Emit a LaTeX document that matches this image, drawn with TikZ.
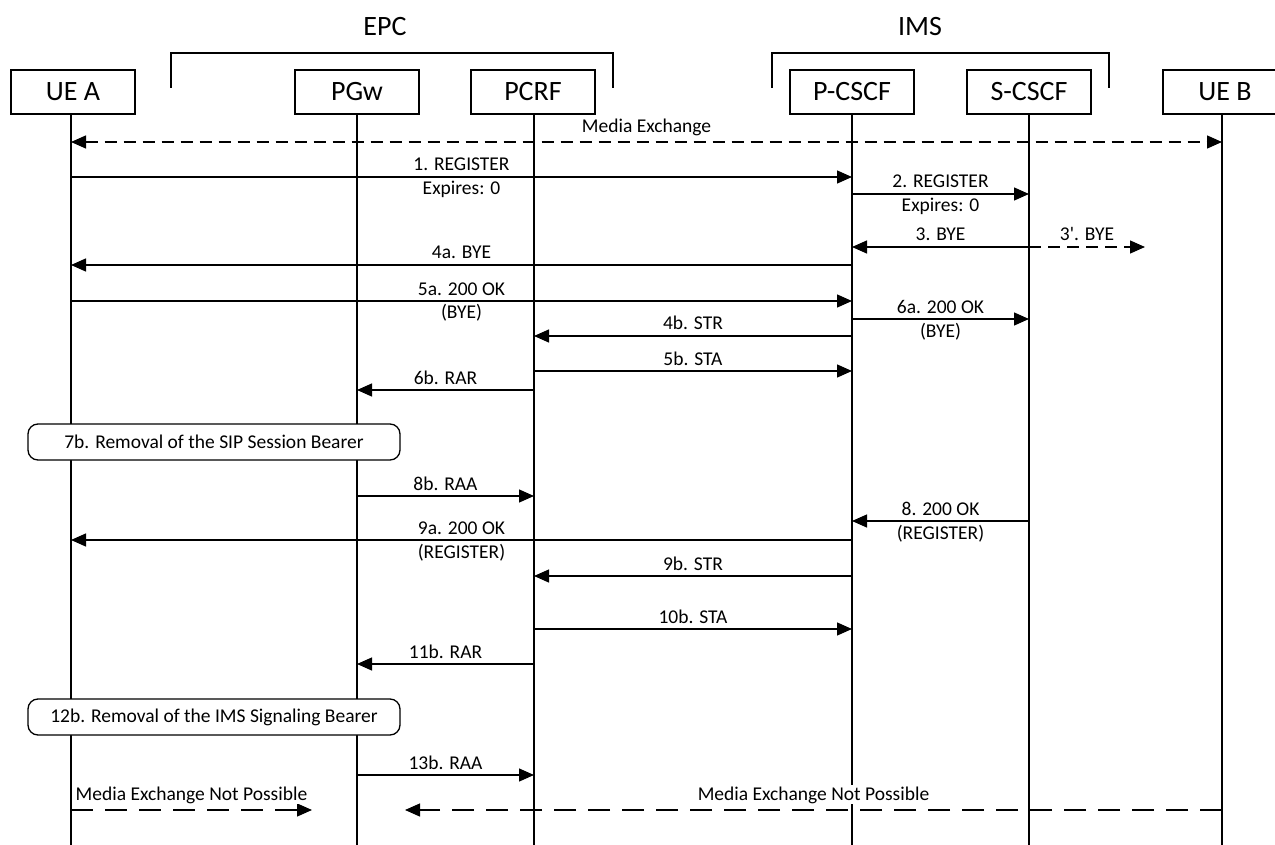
\documentclass[tikz,border=0pt]{standalone}
\usepackage{fontspec}
\newfontfamily\cf{Carlito}
\usetikzlibrary{arrows.meta}
\begin{document}
\begin{tikzpicture}[x=1pt,y=-1pt,
  >={Triangle[length=15pt,width=13pt]},
  every node/.style={font=\cf\fontsize{19.5}{23}\selectfont},
  hdr/.style={draw, line width=1.3pt, minimum width=124pt, minimum height=44pt, inner sep=0pt, fill=white, font=\cf\fontsize{28}{32}\selectfont},
  ttl/.style={font=\cf\fontsize{28}{32}\selectfont},
  life/.style={line width=1.3pt},
  msg/.style={line width=1.3pt, ->},
  dmsg/.style={line width=1.3pt, dash pattern=on 12pt off 7pt},
  ldmsg/.style={line width=1.3pt, dash pattern=on 22pt off 12pt, ->},
  ab/.style={midway, anchor=base, yshift=6pt, fill=white, inner sep=1pt},
  bl/.style={midway, anchor=base, yshift=-18pt, fill=white, inner sep=1pt},
  note/.style={draw, line width=1.3pt, rounded corners=10pt, fill=white, minimum width=372pt, minimum height=36pt, inner sep=0pt}
]
\clip (0,0) rectangle (1275,845);
% titles and brackets
\node[ttl] (epc) at (385,27) {EPC};
\node[ttl] (ims) at (920,27) {IMS};
\draw[life] (171,88) -- (171,53) -- (613,53) -- (613,88);
\draw[life] (772,88) -- (772,53) -- (1109,53) -- (1109,88);
% lifelines
\coordinate (uea) at (71,114);
\coordinate (pgw) at (357,114);
\coordinate (pcrf) at (534,114);
\coordinate (pcscf) at (852,114);
\coordinate (scscf) at (1029,114);
\coordinate (ueb) at (1222,114);
\foreach \n in {uea,pgw,pcrf,pcscf,scscf,ueb}{
  \draw[life] (\n) -- (\n |- 0,845);
}
% header boxes
\node[hdr] (bA) at (73,92) {UE A};
\node[hdr] (bPGw) at (357,92) {PGw};
\node[hdr] (bPCRF) at (533,92) {PCRF};
\node[hdr] (bP) at (852,92) {P-CSCF};
\node[hdr] (bS) at (1029,92) {S-CSCF};
\node[hdr] (bB) at (1225,92) {UE B};
% messages
\draw[dmsg, <->] (uea |- 0,142) -- (ueb |- 0,142) node[ab, yshift=3pt] {Media Exchange};
\draw[msg] (uea |- 0,177) -- (pcscf |- 0,177) node[ab] {1. REGISTER} node[bl] {Expires: 0};
\draw[msg] (pcscf |- 0,194) -- (scscf |- 0,194) node[ab] {2. REGISTER} node[bl] {Expires: 0};
\draw[msg] (scscf |- 0,247) -- (pcscf |- 0,247) node[ab] {3. BYE};
\coordinate (bye3) at (1145,247);
\draw[dmsg, ->] (scscf |- 0,247) -- (bye3) node[ab] {3'. BYE};
\draw[msg] (pcscf |- 0,265) -- (uea |- 0,265) node[ab] {4a. BYE};
\draw[msg] (uea |- 0,301) -- (pcscf |- 0,301) node[ab] {5a. 200 OK} node[bl] {(BYE)};
\draw[msg] (pcscf |- 0,319) -- (scscf |- 0,319) node[ab] {6a. 200 OK} node[bl] {(BYE)};
\draw[msg] (pcscf |- 0,336) -- (pcrf |- 0,336) node[ab] {4b. STR};
\draw[msg] (pcrf |- 0,371) -- (pcscf |- 0,371) node[ab] {5b. STA};
\draw[msg] (pcrf |- 0,390) -- (pgw |- 0,390) node[ab] {6b. RAR};
\node[note] (n7) at (214,442) {7b. Removal of the SIP Session Bearer};
\draw[msg] (pgw |- 0,496) -- (pcrf |- 0,496) node[ab] {8b. RAA};
\draw[msg] (scscf |- 0,521) -- (pcscf |- 0,521) node[ab] {8. 200 OK} node[bl] {(REGISTER)};
\draw[msg] (pcscf |- 0,540) -- (uea |- 0,540) node[ab] {9a. 200 OK} node[bl] {(REGISTER)};
\draw[msg] (pcscf |- 0,576) -- (pcrf |- 0,576) node[ab] {9b. STR};
\draw[msg] (pcrf |- 0,629) -- (pcscf |- 0,629) node[ab] {10b. STA};
\draw[msg] (pcrf |- 0,664) -- (pgw |- 0,664) node[ab] {11b. RAR};
\node[note] (n12) at (214,717) {12b. Removal of the IMS Signaling Bearer};
\draw[msg] (pgw |- 0,775) -- (pcrf |- 0,775) node[ab] {13b. RAA};
\coordinate (mxl) at (312,810);
\coordinate (mxr) at (405,810);
\draw[ldmsg] (uea |- 0,810) -- (mxl) node[ab, yshift=4pt] {Media Exchange Not Possible};
\draw[ldmsg] (ueb |- 0,810) -- (mxr) node[ab, yshift=4pt] {Media Exchange Not Possible};
\end{tikzpicture}
\end{document}
